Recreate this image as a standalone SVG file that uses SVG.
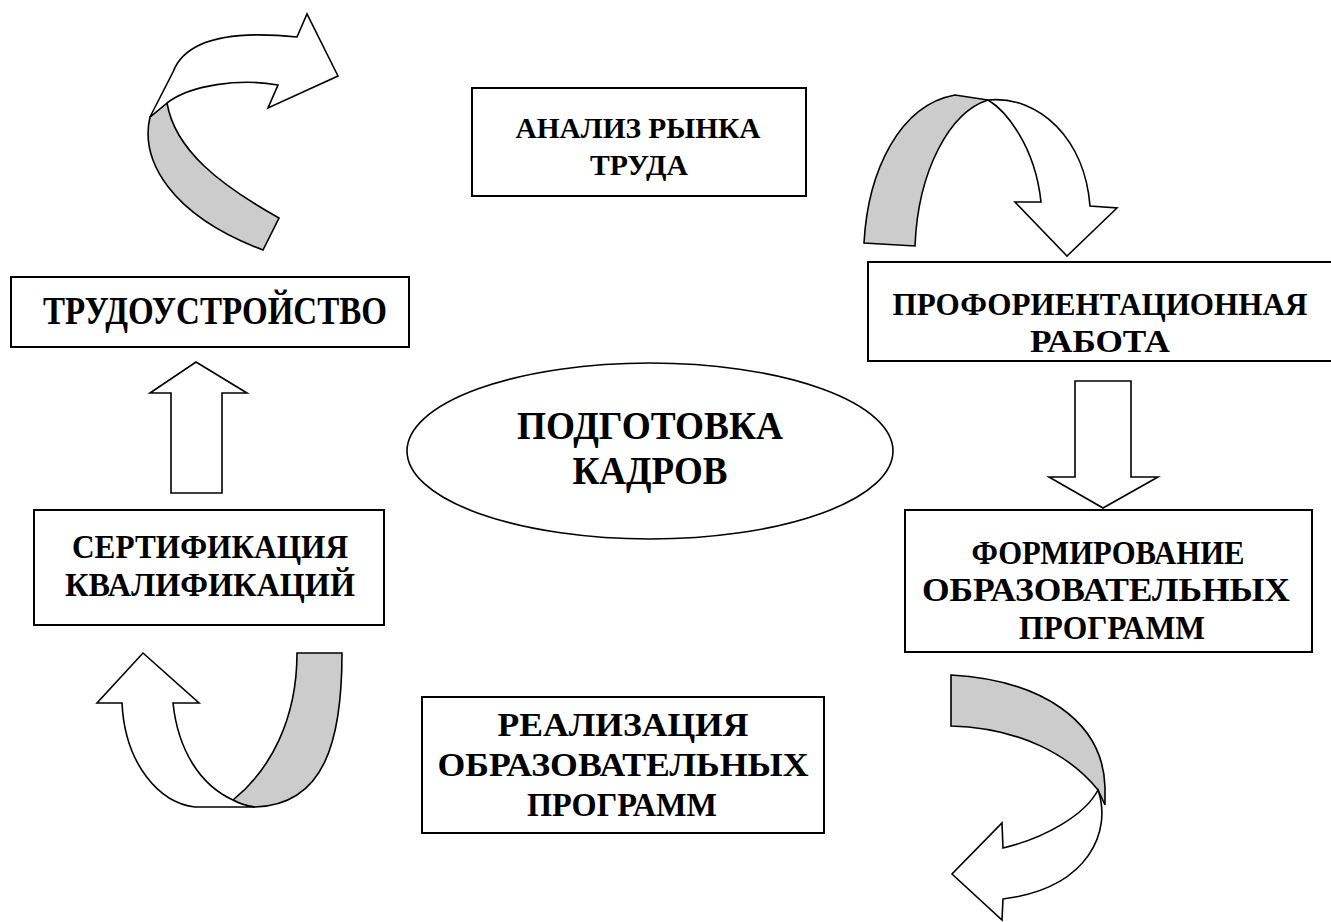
<svg xmlns="http://www.w3.org/2000/svg" width="1331" height="922" viewBox="0 0 1331 922">
<style>
.box{fill:#fff;stroke:#000;stroke-width:2}
.ell{fill:#fff;stroke:#000;stroke-width:1.6}
.t{font-family:"Liberation Serif","Times New Roman",serif;font-weight:bold;fill:#000;text-anchor:middle}
.w{fill:#fff;stroke:#000;stroke-width:1.6;stroke-linejoin:miter}
.g{fill:#cccccc;stroke:#000;stroke-width:1.6}
</style>
<rect width="1331" height="922" fill="#fff"/>
<g id="connectors">
  <g id="arrow-top-left">
    <path class="g" d="M150,117 C140,160 170,215 263,250 L279,218 C220,185 175,150 167,103 Z"/>
    <path class="w" d="M150,117 L173,72 C185,40 230,30 297,37 L307,14 L338,76 L268,108 L278,85 C240,78 190,85 167,103 Z"/>
  </g>
  <g id="arrow-top-right">
    <path class="g" d="M864,243 C868,170 900,105 955,95 L988,100 C950,112 918,170 915,246 Z"/>
    <path class="w" d="M988,100 C1040,95 1085,140 1090,206 L1117,208 L1067,256 L1015,202 L1041,202 C1035,145 1005,110 988,100 Z"/>
  </g>
  <g id="arrow-down">
    <path class="w" d="M1075,381 L1131,381 L1131,477 L1158,477 L1103,508 L1049,477 L1075,477 Z"/>
  </g>
  <g id="arrow-bottom-right">
    <path class="g" d="M951,675 C1040,680 1103,720 1105,787 L1105,805 L1098,790 C1070,755 1020,728 951,726 Z"/>
    <path class="w" d="M1098,790 C1112,830 1090,888 1003,899 L1002,920 L952,874 L1002,823 L1003,848 C1045,838 1085,815 1098,790 Z"/>
  </g>
  <g id="arrow-bottom-left">
    <path class="g" d="M297,653 L342,653 C342,740 325,805 255,807 C245,806 238,803 233,800 C270,770 297,720 297,653 Z"/>
    <path class="w" d="M143,653 L199,703 L173,703 C178,750 200,785 233,800 C240,804 247,806 255,807 L195,807 C160,803 125,765 122,703 L97,703 Z"/>
  </g>
  <g id="arrow-up">
    <path class="w" d="M196,362 L247,393 L222,393 L222,493 L171,493 L171,393 L150,393 Z"/>
  </g>
</g>
<g id="node-analysis">
  <rect class="box" x="472" y="88" width="334" height="108"/>
  <text class="t" x="638" y="138" font-size="29" textLength="245" lengthAdjust="spacingAndGlyphs">АНАЛИЗ РЫНКА</text>
  <text class="t" x="639" y="175" font-size="29" textLength="98" lengthAdjust="spacingAndGlyphs">ТРУДА</text>
</g>
<g id="node-employment">
  <rect class="box" x="11" y="277" width="398" height="70"/>
  <text class="t" x="215" y="324" font-size="40" textLength="344" lengthAdjust="spacingAndGlyphs">ТРУДОУСТРОЙСТВО</text>
</g>
<g id="node-career">
  <rect class="box" x="868" y="262" width="470" height="99"/>
  <text class="t" x="1100" y="315" font-size="32" textLength="415" lengthAdjust="spacingAndGlyphs">ПРОФОРИЕНТАЦИОННАЯ</text>
  <text class="t" x="1100" y="352" font-size="32" textLength="140" lengthAdjust="spacingAndGlyphs">РАБОТА</text>
</g>
<g id="node-center">
  <ellipse class="ell" cx="650" cy="451" rx="243" ry="88"/>
  <text class="t" x="650" y="439" font-size="40" textLength="266" lengthAdjust="spacingAndGlyphs">ПОДГОТОВКА</text>
  <text class="t" x="650" y="484" font-size="40" textLength="155" lengthAdjust="spacingAndGlyphs">КАДРОВ</text>
</g>
<g id="node-certification">
  <rect class="box" x="34" y="510" width="350" height="115"/>
  <text class="t" x="210" y="558" font-size="34" textLength="276" lengthAdjust="spacingAndGlyphs">СЕРТИФИКАЦИЯ</text>
  <text class="t" x="210" y="596" font-size="34" textLength="290" lengthAdjust="spacingAndGlyphs">КВАЛИФИКАЦИЙ</text>
</g>
<g id="node-forming">
  <rect class="box" x="905" y="510" width="407" height="142"/>
  <text class="t" x="1108" y="564" font-size="34" textLength="273" lengthAdjust="spacingAndGlyphs">ФОРМИРОВАНИЕ</text>
  <text class="t" x="1106" y="601" font-size="34" textLength="368" lengthAdjust="spacingAndGlyphs">ОБРАЗОВАТЕЛЬНЫХ</text>
  <text class="t" x="1112" y="639" font-size="34" textLength="186" lengthAdjust="spacingAndGlyphs">ПРОГРАММ</text>
</g>
<g id="node-realization">
  <rect class="box" x="422" y="697" width="402" height="136"/>
  <text class="t" x="623" y="736" font-size="34" textLength="251" lengthAdjust="spacingAndGlyphs">РЕАЛИЗАЦИЯ</text>
  <text class="t" x="623" y="776" font-size="34" textLength="371" lengthAdjust="spacingAndGlyphs">ОБРАЗОВАТЕЛЬНЫХ</text>
  <text class="t" x="622" y="816" font-size="34" textLength="190" lengthAdjust="spacingAndGlyphs">ПРОГРАММ</text>
</g>
</svg>
